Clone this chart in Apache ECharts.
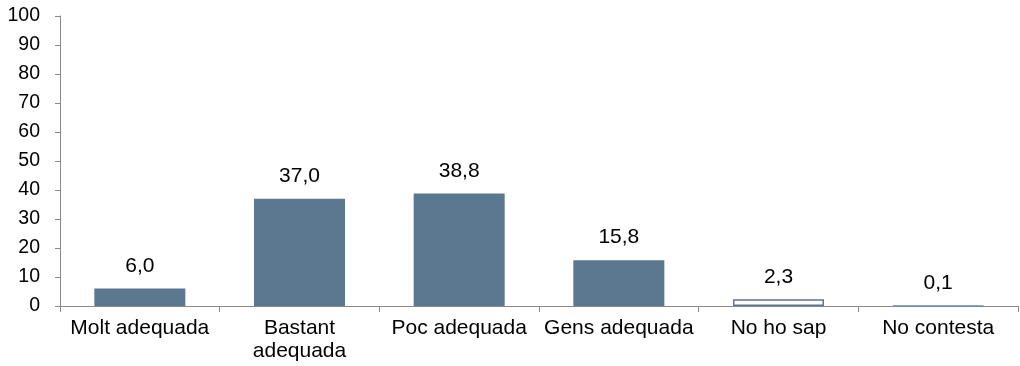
<!DOCTYPE html>
<html><head><meta charset="utf-8">
<script src="https://cdn.jsdelivr.net/npm/echarts@6/dist/echarts.min.js"></script>
<style>html,body{margin:0;padding:0;background:#fff}#c{width:1020px;height:366px}</style>
</head><body><div id="c"></div>
<script>
const categories = ['Molt adequada', 'Bastant\nadequada', 'Poc adequada', 'Gens adequada', 'No ho sap', 'No contesta'];
const values = [6.0, 37.0, 38.8, 15.8, 2.3, 0.1];
const yTicks = [0, 10, 20, 30, 40, 50, 60, 70, 80, 90, 100];

const barColor = '#5b7890';
const styles = values.map((v, i) => {
  if (i === 4) return { color: '#ffffff', borderColor: '#5b7890', borderWidth: 1.5 };
  if (i === 5) return { color: '#6a8cab', borderColor: '#6a8cab', borderWidth: 1.2 };
  return { color: barColor };
});

const font = 'Liberation Sans, Arial, sans-serif';
const chart = echarts.init(document.getElementById('c'));
chart.setOption({
  animation: false,
  grid: { left: 60, right: 2, top: 16, bottom: 60, containLabel: false },
  xAxis: {
    type: 'category',
    data: categories,
    axisLine: { lineStyle: { color: '#898989', width: 1 } },
    axisTick: { show: true, length: 6, lineStyle: { color: '#898989' } },
    axisLabel: { color: '#000', fontFamily: font, fontSize: 21, margin: 11, interval: 0, lineHeight: 23 }
  },
  yAxis: {
    type: 'value', min: yTicks[0], max: yTicks[yTicks.length - 1], interval: 10,
    axisLine: { show: true, lineStyle: { color: '#898989', width: 1 } },
    axisTick: { show: true, length: 5, lineStyle: { color: '#898989' } },
    splitLine: { show: false },
    axisLabel: { color: '#000', fontFamily: font, fontSize: 19.5, margin: 20 }
  },
  series: [{
    type: 'bar',
    barWidth: '57%',
    data: values.map((v, i) => ({ value: v, itemStyle: styles[i] })),
    label: {
      show: true, position: 'top', distance: 12,
      color: '#000', fontFamily: font, fontSize: 21,
      formatter: p => p.value.toFixed(1).replace('.', ',')
    }
  }]
});
</script></body></html>
